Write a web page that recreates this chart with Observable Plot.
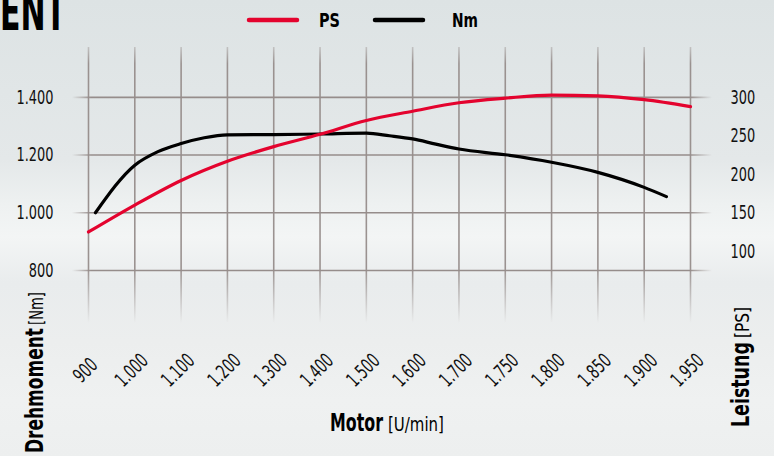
<!DOCTYPE html>
<html><head><meta charset="utf-8">
<script src="https://cdn.jsdelivr.net/npm/d3@7"></script>
<script src="https://cdn.jsdelivr.net/npm/@observablehq/plot@0.6"></script>
<style>
body{margin:0;background:#e6eaea;}
#wrap{position:relative;width:774px;height:456px;overflow:hidden;
background:linear-gradient(180deg,#dde3e4 0%,#e1e6e7 20%,#e4e8e9 35%,#eef1f1 45%,#f3f5f5 52%,#e9eced 62%,#eceeee 75%,#eff1f1 88%,#edefef 100%);}
#wrap svg{position:absolute;left:0;top:0;}
</style></head><body><div id="wrap"></div>
<script>
// x categories (rpm) and axis ticks
const rpmTicks = [900,1000,1100,1200,1300,1400,1500,1600,1700,1750,1800,1850,1900,1950];
const nmTicks = [800,1000,1200,1400];
const psTicks = [100,150,200,250,300];
// PS (power) series
const psRpm = [900,1000,1100,1200,1300,1400,1500,1600,1700,1750,1800,1850,1900,1950];
const psValues = [125,160,192,217,236,252,270,282,293,299,303,302,297,288];
// Nm (torque) series
const nmRpm = [915,1000,1050,1100,1150,1200,1300,1400,1500,1550,1600,1650,1700,1750,1800,1850,1900,1924];
const nmValues = [1000,1165,1212,1240,1260,1270,1271,1273,1276,1267,1256,1238,1221,1201,1175,1140,1088,1056];

const psToNm = ps => 1000 + (ps - 150) / 0.375;
const fmt = d3.formatLocale({decimal:",", thousands:".", grouping:[3], currency:["","€"]}).format(",");

const FONT = '"DejaVu Sans Condensed","Liberation Sans",sans-serif';
const RED = "#e4032e";
const GRID = "#968d8b";

const psData = psRpm.map((r,i)=>({rpm:r, v:psToNm(psValues[i])}));
const nmData = nmRpm.map((r,i)=>({rpm:r, v:nmValues[i]}));

const chart = Plot.plot({
  width:774, height:456,
  marginLeft:88, marginRight:84, marginTop:47, marginBottom:133,
  style:{background:"transparent", fontFamily:FONT, color:"#111"},
  x:{type:"linear", domain:rpmTicks, axis:null},
  y:{domain:[616,1573], axis:null},
  marks:[
    Plot.ruleX(rpmTicks, {x:d=>d, stroke:"url(#gv)", strokeWidth:1.6}),
    Plot.ruleY(nmTicks, {y:d=>d, x1:865, x2:1974, stroke:"url(#gh)", strokeWidth:1.6}),
    Plot.line(nmData, {x:"rpm", y:"v", stroke:"#000", strokeWidth:3.2, curve:"monotone-x"}),
    Plot.line(psData, {x:"rpm", y:"v", stroke:RED, strokeWidth:3.2, curve:"monotone-x"}),
    Plot.text(nmTicks, {y:d=>d, text:d=>fmt(d), frameAnchor:"left", dx:-35, textAnchor:"end",
      fontSize:20, fill:"#111", className:"tk"}),
    Plot.text(psTicks, {y:d=>psToNm(d), text:d=>String(d), frameAnchor:"right", dx:40, textAnchor:"start",
      fontSize:20, fill:"#111", className:"tk"}),
    Plot.text(rpmTicks, {x:d=>d, text:d=>fmt(d), frameAnchor:"bottom", dy:47, dx:-3, rotate:-45,
      textAnchor:"middle", lineAnchor:"middle", fontSize:20, fill:"#111", className:"tk"})
  ]
});
document.getElementById("wrap").appendChild(chart);

const svg = d3.select(chart);
const defs = svg.insert("defs", ":first-child");
const gh = defs.append("linearGradient").attr("id","gh").attr("gradientUnits","userSpaceOnUse")
  .attr("x1",72).attr("x2",712).attr("y1",0).attr("y2",0);
[[0,0],[0.03,1],[0.965,1],[1,0]].forEach(([o,a])=>gh.append("stop").attr("offset",o).attr("stop-color",GRID).attr("stop-opacity",a));
const gv = defs.append("linearGradient").attr("id","gv").attr("gradientUnits","userSpaceOnUse")
  .attr("x1",0).attr("x2",0).attr("y1",47).attr("y2",323);
[[0,0.4],[0.06,0.95],[0.8,0.95],[1,0]].forEach(([o,a])=>gv.append("stop").attr("offset",o).attr("stop-color",GRID).attr("stop-opacity",a));

// condense tick labels: scale so that "1.400" is ~37px wide
const tickTexts = svg.selectAll(".tk text").nodes();
let ref = tickTexts.find(t => t.textContent === "1.400");
const tickScale = ref ? 37 / ref.getComputedTextLength() : 0.78;
tickTexts.forEach(t => {
  let tr = t.getAttribute("transform");
  if (!tr) {
    const x = +t.getAttribute("x") || 0, y = +t.getAttribute("y") || 0;
    t.removeAttribute("x"); t.removeAttribute("y");
    tr = `translate(${x},${y})`;
  }
  t.setAttribute("transform", tr + ` scale(${tickScale},1)`);
});

// titles & legend
const g = svg.append("g").attr("font-family", FONT).attr("fill","#000").attr("text-anchor","start");
function txt(s, x, y, size, bold, rot, width){
  const t = g.append("text").text(s).attr("text-anchor","start")
   .attr("font-size", size).attr("font-weight", bold?"bold":"normal");
  const sx = width ? width / t.node().getComputedTextLength() : 1;
  t.attr("transform", `translate(${x},${y})` + (rot?` rotate(${rot})`:"") + ` scale(${sx},1)`);
}
txt("ENT", 0, 30, 54, true, 0, 66);
// legend
g.append("line").attr("x1",249).attr("x2",297).attr("y1",20).attr("y2",20).attr("stroke",RED).attr("stroke-width",4.5).attr("stroke-linecap","round");
txt("PS", 319, 27, 20, true, 0, 21);
g.append("line").attr("x1",375).attr("x2",423).attr("y1",20).attr("y2",20).attr("stroke","#000").attr("stroke-width",4.5).attr("stroke-linecap","round");
txt("Nm", 452, 27, 20, true, 0, 26);
// axis titles
txt("Motor", 330, 431, 24, true, 0, 53);
txt("[U/min]", 388, 431, 19, false, 0, 56);
txt("Drehmoment", 43, 453, 24, true, -90, 125);
txt("[Nm]", 43, 325, 19, false, -90, 33);
txt("Leistung", 749, 427, 24, true, -90, 85);
txt("[PS]", 749, 338, 19, false, -90, 31);
</script>
</body></html>
